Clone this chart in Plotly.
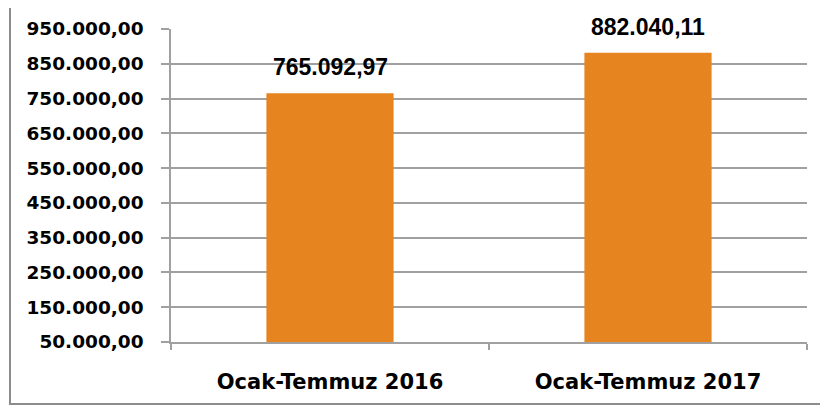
import plotly.graph_objects as go

categories = ["Ocak-Temmuz 2016", "Ocak-Temmuz 2017"]
values = [765092.97, 882040.11]
value_labels = ["765.092,97", "882.040,11"]
tick_vals = [50000, 150000, 250000, 350000, 450000, 550000, 650000, 750000, 850000, 950000]
tick_text = ["50.000,00", "150.000,00", "250.000,00", "350.000,00", "450.000,00",
             "550.000,00", "650.000,00", "750.000,00", "850.000,00", "950.000,00"]

# page body has an 8px margin, so the figure is 8px smaller than the window
L, T, PW, PH = 163, 21, 636, 313

fig = go.Figure()
fig.add_trace(go.Bar(
    x=categories, y=values, width=0.4,
    marker=dict(color="#E6851F", line=dict(width=0)),
    hoverinfo="skip",
))

for c, v, t in zip(categories, values, value_labels):
    fig.add_annotation(x=c, y=v, text="<b>%s</b>" % t, showarrow=False,
                       yanchor="middle", yshift=26,
                       font=dict(family="Liberation Sans", size=23, color="#000000"))

fig.update_layout(
    width=820, height=400,
    margin=dict(l=L, r=820 - L - PW, t=T, b=400 - T - PH),
    paper_bgcolor="white", plot_bgcolor="white",
    showlegend=False,
    font=dict(family="DejaVu Sans", color="#000000"),
)

fig.update_yaxes(
    range=[50000, 950000], tickvals=tick_vals, ticktext=["<b>%s</b>" % t for t in tick_text],
    tickfont=dict(family="DejaVu Sans", size=18.5),
    showgrid=True, gridcolor="#A0A0A0", gridwidth=1.5,
    showline=True, linecolor="#A0A0A0", linewidth=1.5,
    ticks="outside", ticklen=8, tickcolor="#A0A0A0", tickwidth=1.5,
    zeroline=False, ticklabelstandoff=14, automargin=False,
)
fig.update_xaxes(
    ticktext=["<b>%s</b>" % c for c in categories], tickvals=categories,
    tickfont=dict(family="DejaVu Sans", size=21),
    showline=True, linecolor="#A0A0A0", linewidth=1.5,
    ticks="outside", ticklen=6, tickcolor="#A0A0A0", tickwidth=1.5,
    tickson="boundaries", ticklabelstandoff=20, automargin=False,
)

# chart frame (only left and bottom edges fall inside the picture)
fig.add_shape(type="rect", xref="paper", yref="paper",
              x0=(2 - L) / PW, x1=1.2, y0=(T + PH - 396) / PH, y1=1.3,
              line=dict(color="#8C8C8C", width=2), layer="below")

fig.write_html("out.html")
